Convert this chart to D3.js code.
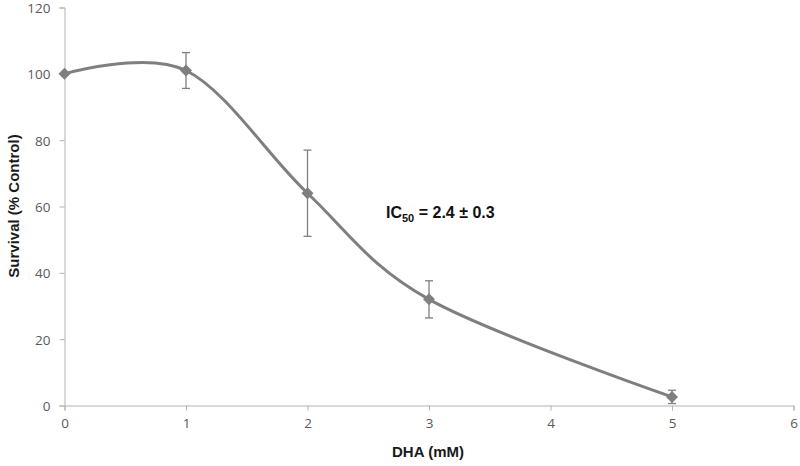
<!DOCTYPE html>
<html><head><meta charset="utf-8">
<script src="https://cdn.jsdelivr.net/npm/d3@7"></script>
<style>body{margin:0;background:#fff}svg{display:block}</style>
</head><body>
<script>
const doses = [0, 1, 2, 3, 5];
const survival = [100, 101, 64, 32, 2.6];
const errors = [0, 5.4, 13, 5.6, 2];
const xTicks = [0, 1, 2, 3, 4, 5, 6];
const yTicks = [0, 20, 40, 60, 80, 100, 120];

const W = 800, H = 466;
const svg = d3.select("body").append("svg").attr("width", W).attr("height", H);
const x = d3.scaleLinear().domain([0, 6]).range([64.5, 793.5]);
const y = d3.scaleLinear().domain([0, 120]).range([405.5, 7.5]);
const axisColor = "#b3b3b3", textColor = "#595959", markColor = "#7f7f7f";

const xa = svg.append("g").attr("transform", `translate(0,${y(0)})`)
  .call(d3.axisBottom(x).tickValues(xTicks).tickSize(5).tickPadding(8).tickFormat(d3.format("d")));
const ya = svg.append("g").attr("transform", `translate(${x(0)},0)`)
  .call(d3.axisLeft(y).tickValues(yTicks).tickSize(5).tickPadding(9));
[xa, ya].forEach(a => {
  a.selectAll("path,line").attr("stroke", axisColor).attr("stroke-width", 1);
  a.selectAll("text").attr("fill", textColor).style("font-family", "'Open Sans', 'Liberation Sans', sans-serif").style("font-size", "13.5px");
});
ya.selectAll("text").attr("dy", "0.38em");

const pts = doses.map((d, i) => [x(d), y(survival[i])]);
svg.append("path").attr("d", d3.line().curve(d3.curveCardinal.tension(0))(pts))
  .attr("fill", "none").attr("stroke", markColor).attr("stroke-width", 3);

const eb = svg.append("g").attr("stroke", markColor).attr("stroke-width", 1.3);
doses.forEach((d, i) => {
  if (!errors[i]) return;
  const cx = x(d), t = y(survival[i] + errors[i]), b = y(survival[i] - errors[i]);
  eb.append("line").attr("x1", cx).attr("x2", cx).attr("y1", t).attr("y2", b);
  eb.append("line").attr("x1", cx - 4).attr("x2", cx + 4).attr("y1", t).attr("y2", t);
  eb.append("line").attr("x1", cx - 4).attr("x2", cx + 4).attr("y1", b).attr("y2", b);
});

svg.append("g").selectAll("path").data(doses).join("path")
  .attr("transform", (d, i) => `translate(${x(d)},${y(survival[i])})`)
  .attr("d", "M0,-6L6,0L0,6L-6,0Z").attr("fill", markColor);

const font = "'Liberation Sans', Arial, sans-serif";
svg.append("text").attr("x", 428).attr("y", 457).attr("text-anchor", "middle")
  .style("font-family", font).style("font-weight", "bold").style("font-size", "15px").attr("fill", "#1a1a1a")
  .text("DHA (mM)");
svg.append("text").attr("transform", "translate(19,206) rotate(-90)").attr("text-anchor", "middle")
  .style("font-family", font).style("font-weight", "bold").style("font-size", "15px").attr("fill", "#1a1a1a")
  .text("Survival (% Control)");
const ic = svg.append("text").attr("x", 386).attr("y", 218)
  .style("font-family", font).style("font-weight", "bold").style("font-size", "16px").attr("fill", "#111");
ic.append("tspan").text("IC");
ic.append("tspan").attr("dy", 4).style("font-size", "11px").text("50");
ic.append("tspan").attr("dy", -4).text(" = 2.4 ± 0.3");
</script>
</body></html>
